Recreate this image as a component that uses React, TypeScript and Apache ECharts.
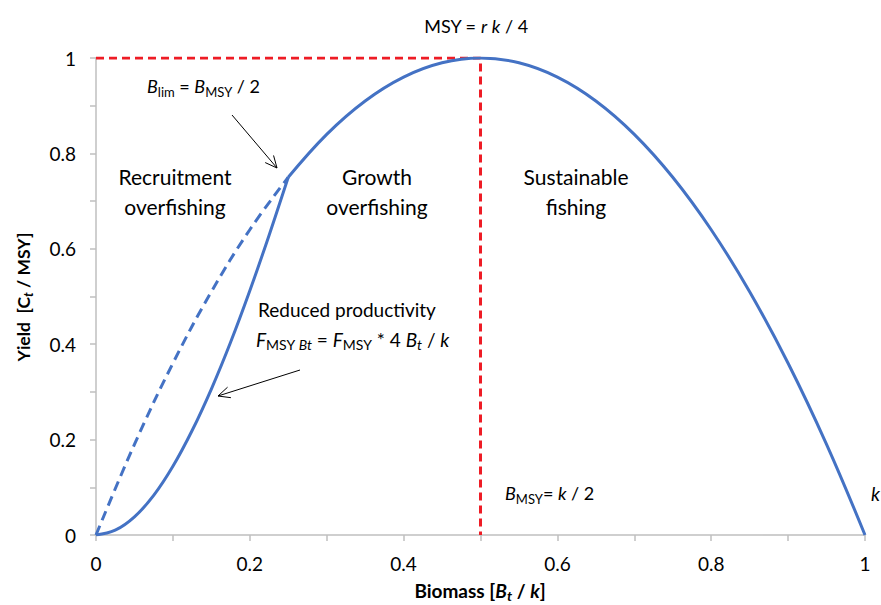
import React, { useEffect, useRef } from 'react';
import * as echarts from 'echarts';

// Biomass (B_t / k) and yield (C_t / MSY)
const biomassMain = [0.25, 0.3, 0.35, 0.4, 0.45, 0.5, 0.55, 0.6, 0.65, 0.7, 0.75, 0.8, 0.85, 0.9, 0.95, 1];
const yieldMain = [0.75, 0.84, 0.91, 0.96, 0.99, 1.0, 0.99, 0.96, 0.91, 0.84, 0.75, 0.64, 0.51, 0.36, 0.19, 0];

const biomassRecruit = [0, 0.05, 0.1, 0.15, 0.2, 0.25];
const yieldRecruitDashed = [0, 0.19, 0.36, 0.51, 0.64, 0.75];

const biomassReduced = [0, 0.025, 0.05, 0.075, 0.1, 0.125, 0.15, 0.175, 0.2, 0.225, 0.25];
const yieldReduced = [0, 0.01, 0.038, 0.083, 0.144, 0.219, 0.306, 0.404, 0.512, 0.628, 0.75];

const msyBiomass = [0, 0.5, 0.5];
const msyYield = [1, 1, 0];

const tickLabels = ['0', '0.2', '0.4', '0.6', '0.8', '1'];

const F = 'Lato, "Open Sans", sans-serif';
const BLUE = '#4472c4';
const RED = '#ee1c25';
const AXIS = '#bfbfbf';

const zip = (xs: number[], ys: number[]) => xs.map((x, i) => [x, ys[i]]);

function rich(size: number, bold = false, lh = size + 6) {
  const w = bold ? 'bold' : 'normal';
  const sub = Math.round(size * 0.72);
  return {
    n: { fontSize: size, fontFamily: F, fontWeight: w, fill: '#000', lineHeight: lh },
    i: { fontSize: size, fontFamily: F, fontWeight: w, fontStyle: 'italic', fill: '#000', lineHeight: lh },
    s: { fontSize: sub, fontFamily: F, fontWeight: w, fill: '#000', verticalAlign: 'bottom', lineHeight: sub + 1 },
    si: { fontSize: sub, fontFamily: F, fontWeight: w, fontStyle: 'italic', fill: '#000', verticalAlign: 'bottom', lineHeight: sub + 1 },
  };
}

function label(x: number, y: number, text: string, size = 18, align = 'left', bold = false, rotation = 0, lh = size + 6) {
  return {
    type: 'text',
    x,
    y,
    rotation,
    style: {
      text,
      rich: rich(size, bold, lh),
      fontSize: size,
      fontFamily: F,
      fontWeight: bold ? 'bold' : 'normal',
      fill: '#000',
      align,
      verticalAlign: 'middle',
      lineHeight: lh,
    },
  };
}

function arrow(x1: number, y1: number, x2: number, y2: number) {
  const dx = x2 - x1;
  const dy = y2 - y1;
  const len = Math.sqrt(dx * dx + dy * dy);
  const bx = -dx / len;
  const by = -dy / len;
  const a = (25 * Math.PI) / 180;
  const L = 13;
  const c = Math.cos(a);
  const s = Math.sin(a);
  const p1 = [x2 + L * (bx * c - by * s), y2 + L * (bx * s + by * c)];
  const p2 = [x2 + L * (bx * c + by * s), y2 + L * (-bx * s + by * c)];
  return [
    { type: 'line', shape: { x1, y1, x2, y2 }, style: { stroke: '#000', lineWidth: 1 } },
    { type: 'polyline', shape: { points: [p1, [x2, y2], p2] }, style: { stroke: '#000', lineWidth: 1, fill: 'none' } },
  ];
}

export default function App() {
  const ref = useRef<HTMLDivElement>(null);
  useEffect(() => {
    if (!ref.current) return;
    const chart = echarts.init(ref.current, null, { renderer: 'svg' });
    const fmt = (v: number) => {
      const k = Math.round(v * 10);
      return k % 2 === 0 ? tickLabels[k / 2] : '';
    };
    const axisCommon = {
      type: 'value',
      min: 0,
      max: 1,
      interval: 0.1,
      splitLine: { show: false },
      axisLine: { show: true, lineStyle: { color: AXIS, width: 1.5 } },
      axisTick: { show: true, length: 6, lineStyle: { color: AXIS, width: 1.5 } },
    };
    chart.setOption({
      animation: false,
      grid: { left: 96, right: 16, top: 58, bottom: 70 },
      xAxis: {
        ...axisCommon,
        axisLabel: { formatter: fmt, color: '#000', fontSize: 19, fontFamily: F, margin: 19 },
      },
      yAxis: {
        ...axisCommon,
        axisLabel: { formatter: fmt, color: '#000', fontSize: 19, fontFamily: F, margin: 20 },
      },
      series: [
        {
          name: 'MSY',
          type: 'line',
          data: zip(msyBiomass, msyYield),
          symbol: 'none',
          lineStyle: { color: RED, width: 3, type: [8, 5] },
          z: 2,
        },
        {
          name: 'Yield',
          type: 'line',
          data: zip(biomassMain, yieldMain),
          symbol: 'none',
          smooth: 0.4,
          lineStyle: { color: BLUE, width: 3 },
          z: 3,
        },
        {
          name: 'Recruitment overfishing',
          type: 'line',
          data: zip(biomassRecruit, yieldRecruitDashed),
          symbol: 'none',
          smooth: 0.4,
          lineStyle: { color: BLUE, width: 3, type: [10, 6] },
          z: 3,
        },
        {
          name: 'Reduced productivity',
          type: 'line',
          data: zip(biomassReduced, yieldReduced),
          symbol: 'none',
          smooth: 0.4,
          lineStyle: { color: BLUE, width: 3 },
          z: 3,
        },
      ],
      graphic: [
        label(476, 26, '{n|MSY = }{i|r}{n| }{i|k}{n| / 4}', 18, 'center'),
        label(147, 86, '{i|B}{s|lim}{n| = }{i|B}{s|MSY}{n| / 2}', 18),
        label(175, 191, '{n|Recruitment}\n{n|overfishing}', 21, 'center', false, 0, 30),
        label(377, 191, '{n|Growth}\n{n|overfishing}', 21, 'center', false, 0, 30),
        label(576, 191, '{n|Sustainable}\n{n|fishing}', 21, 'center', false, 0, 30),
        label(258, 309, '{n|Reduced productivity}', 19),
        label(256, 339, '{i|F}{s|MSY }{si|Bt}{n| = }{i|F}{s|MSY}{n| * 4 }{i|B}{si|t}{n| / }{i|k}', 19),
        label(505, 493, '{i|B}{s|MSY}{n|= }{i|k}{n| / 2}', 18),
        label(871, 493, '{i|k}', 19),
        label(480, 590, '{n|Biomass [}{i|B}{si|t}{n| / }{i|k}{n|]}', 19, 'center', true),
        label(23, 297, '{n|Yield  [C}{si|t}{n| / MSY]}', 17.5, 'center', true, Math.PI / 2),
        ...arrow(232, 115, 277, 168),
        ...arrow(300, 370, 218, 396),
      ],
    });
    return () => chart.dispose();
  }, []);
  return <div ref={ref} style={{ position: 'fixed', left: 0, top: 0, width: 881, height: 605, background: '#fff' }} />;
}
